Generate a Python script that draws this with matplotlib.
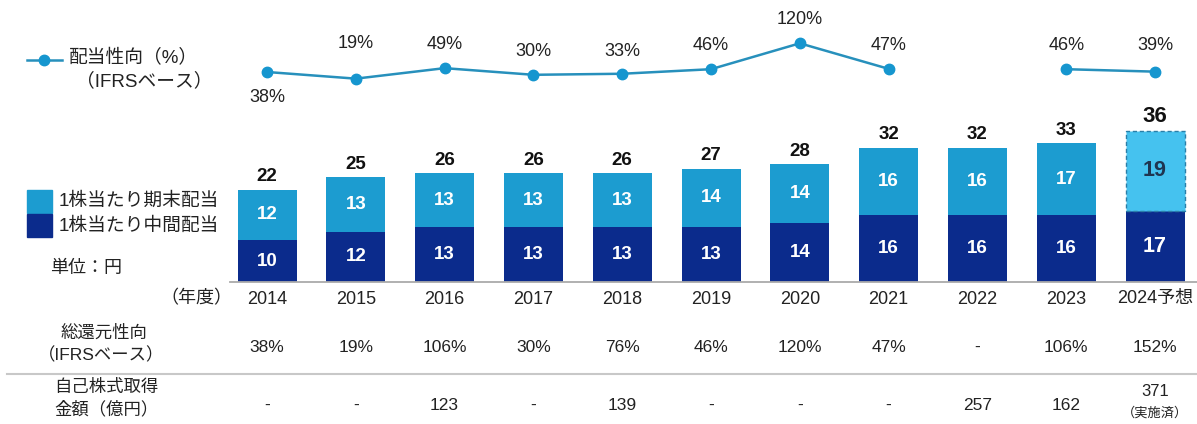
import matplotlib
matplotlib.use("Agg")
import matplotlib.pyplot as plt
import matplotlib.transforms as mtransforms
import numpy as np

plt.rcParams['font.family'] = ['Liberation Sans', 'Noto Sans CJK JP', 'DejaVu Sans']

years = ["2014", "2015", "2016", "2017", "2018", "2019", "2020", "2021", "2022", "2023", "2024予想"]
interim = [10, 12, 13, 13, 13, 13, 14, 16, 16, 16, 17]
year_end = [12, 13, 13, 13, 13, 14, 14, 16, 16, 17, 19]
totals = [22, 25, 26, 26, 26, 27, 28, 32, 32, 33, 36]
payout = [38, 19, 49, 30, 33, 46, 120, 47, np.nan, 46, 39]
total_return = ["38%", "19%", "106%", "30%", "76%", "46%", "120%", "47%", "-", "106%", "152%"]
buyback = ["-", "-", "123", "-", "139", "-", "-", "-", "257", "162", "371"]

W, H = 1197, 424
fig = plt.figure(figsize=(W / 100, H / 100), dpi=100)

LIGHT = "#1C9CD0"
LIGHT_FC = "#45C2EF"
DARK = "#0B2B8C"
LINE = "#2790BC"
MARK = "#1696CF"
TXT = "#222222"

def fx(px):
    return px / W

def fy(py):
    return 1 - py / H

x0_px, dx_px = 267.0, 88.8
ax = fig.add_axes([0, 0, 1, 1])
ax.set_xlim(-x0_px / dx_px, (W - x0_px) / dx_px)
base_px, upx = 282.0, 4.2
ax.set_ylim(-(H - base_px) / upx, base_px / upx)
ax.axis("off")

x = np.arange(len(years))
bw = 59 / dx_px
n = len(years)
ax.bar(x, interim, width=bw, color=DARK, linewidth=0, zorder=2)
ax.bar(x[:-1], year_end[:-1], bottom=interim[:-1], width=bw, color=LIGHT, linewidth=0, zorder=2)
ax.bar(x[-1:], year_end[-1:], bottom=interim[-1:], width=bw, color=LIGHT_FC,
       edgecolor="#2A7FA8", linewidth=1.0, linestyle=(0, (3, 2)), zorder=2)

# baseline
ax.plot([(230 - x0_px) / dx_px, (W - x0_px) / dx_px], [0, 0], color="#AAAAAA", lw=1.3, zorder=3)

for i in range(n):
    last = i == n - 1
    ax.text(x[i], interim[i] / 2, str(interim[i]), ha="center", va="center",
            color="white", fontsize=15.5 if last else 13.5, fontweight="bold", zorder=4)
    c = "#1F3550" if last else "white"
    ax.text(x[i], interim[i] + year_end[i] / 2, str(year_end[i]), ha="center", va="center",
            color=c, fontsize=15.5 if last else 13.5, fontweight="bold", zorder=4)
    ax.text(x[i], totals[i] + 1.0, str(totals[i]), ha="center", va="bottom",
            color="#111111", fontsize=16 if last else 13.5, fontweight="bold", zorder=4)

blend = mtransforms.blended_transform_factory(ax.transData, fig.transFigure)
for i in range(n):
    fig.text(x[i], fy(299), years[i], transform=blend, ha="center", va="center",
             fontsize=13, color=TXT)
    fig.text(x[i], fy(347), total_return[i], transform=blend, ha="center", va="center",
             fontsize=12.5, color=TXT)
    if i == n - 1:
        fig.text(x[i], fy(392), buyback[i], transform=blend, ha="center", va="center",
                 fontsize=12, color=TXT)
        fig.text(x[i], fy(413), "（実施済）", transform=blend, ha="center", va="center",
                 fontsize=9.5, color=TXT)
    else:
        fig.text(x[i], fy(405), buyback[i], transform=blend, ha="center", va="center",
                 fontsize=12.5, color=TXT)

fig.text(fx(232), fy(299), "（年度）", ha="right", va="center", fontsize=13, color=TXT)

# payout line on its own axis
ax2 = fig.add_axes([0, 0, 1, 1], sharex=ax)
a_px, k_px = 85.3, 0.35
ax2.set_ylim(-(H - a_px) / k_px, a_px / k_px)
ax2.axis("off")
ax2.patch.set_alpha(0)
p = np.array(payout, dtype=float)
ax2.plot(x, p, color=LINE, lw=1.8, marker="o", markersize=7.5,
         markerfacecolor=MARK, markeredgecolor=MARK, zorder=5)
offsets = [-25, 35, 24, 23, 22, 24, 24, 23, 0, 24, 26]
for i in range(n):
    if np.isnan(p[i]):
        continue
    ax2.annotate(f"{int(p[i])}%", (x[i], p[i]), xytext=(0, offsets[i] * 0.72),
                 textcoords="offset points", ha="center", va="center",
                 fontsize=13, color=TXT)

# legends
fig.add_artist(plt.Line2D([fx(27), fx(62)], [fy(60), fy(60)], color=LINE, lw=1.8))
fig.add_artist(plt.Line2D([fx(44)], [fy(60)], marker="o", markersize=7.5,
                          color=MARK, lw=0))
fig.text(fx(69), fy(58), "配当性向（%）", ha="left", va="center", fontsize=13.5, color=TXT)
fig.text(fx(76), fy(81), "（IFRSベース）", ha="left", va="center", fontsize=13.5, color=TXT)

fig.add_artist(plt.Rectangle((fx(27), fy(213)), fx(25), 23 / H, color=LIGHT,
                             transform=fig.transFigure))
fig.add_artist(plt.Rectangle((fx(27), fy(237)), fx(25), 23 / H, color=DARK,
                             transform=fig.transFigure))
fig.text(fx(59), fy(201), "1株当たり期末配当", ha="left", va="center", fontsize=13.5, color=TXT)
fig.text(fx(59), fy(226), "1株当たり中間配当", ha="left", va="center", fontsize=13.5, color=TXT)
fig.text(fx(50), fy(268), "単位：円", ha="left", va="center", fontsize=13, color=TXT)

# table labels
fig.text(fx(104), fy(333), "総還元性向", ha="center", va="center", fontsize=12.5, color=TXT)
fig.text(fx(101), fy(355), "（IFRSベース）", ha="center", va="center", fontsize=12.5, color=TXT)
fig.add_artist(plt.Line2D([fx(7), 1], [fy(374), fy(374)], color="#C8C8C8", lw=1.5))
fig.text(fx(54), fy(387), "自己株式取得", ha="left", va="center", fontsize=12.5, color=TXT)
fig.text(fx(54), fy(409), "金額（億円）", ha="left", va="center", fontsize=12.5, color=TXT)

fig.savefig("out.png", dpi=100)
